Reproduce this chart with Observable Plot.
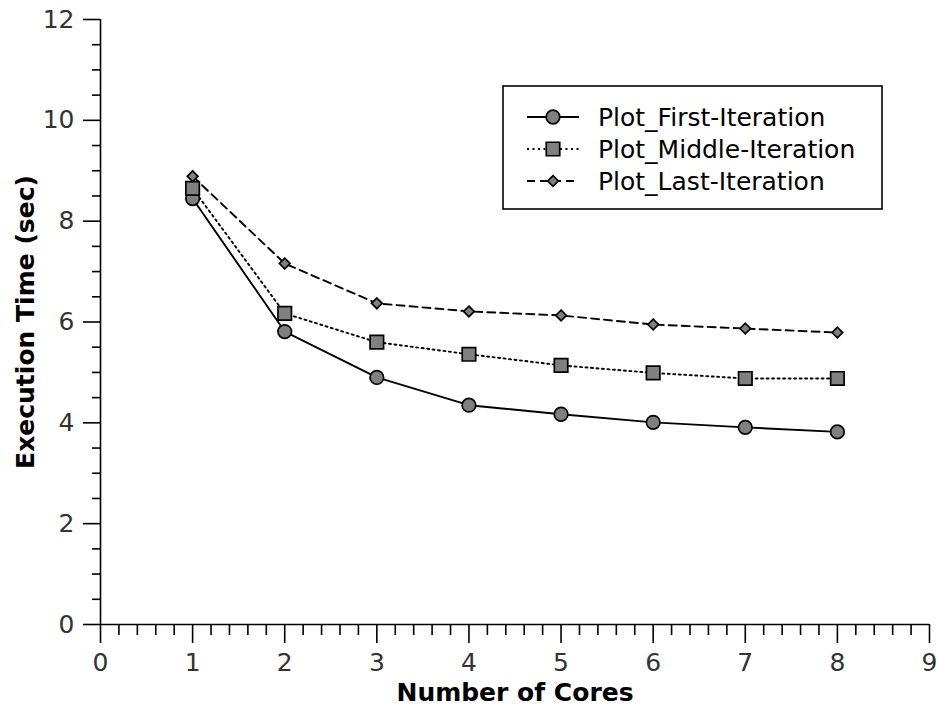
<!DOCTYPE html>
<html>
<head>
<meta charset="utf-8">
<script src="https://cdn.jsdelivr.net/npm/d3@7"></script>
<script src="https://cdn.jsdelivr.net/npm/@observablehq/plot@0.6"></script>
<style>
  body { margin: 0; background: #fff; }
  #chart svg { display: block; }
</style>
</head>
<body>
<div id="chart"></div>
<script>
// Execution time per number of cores, for three iterations of the run
const cores = [1, 2, 3, 4, 5, 6, 7, 8];
const firstIteration  = [8.45, 5.81, 4.90, 4.35, 4.17, 4.01, 3.91, 3.82];
const middleIteration = [8.65, 6.17, 5.60, 5.36, 5.14, 4.99, 4.88, 4.88];
const lastIteration   = [8.89, 7.16, 6.37, 6.21, 6.13, 5.95, 5.87, 5.79];
const seriesNames = ["Plot_First-Iteration", "Plot_Middle-Iteration", "Plot_Last-Iteration"];

// Axis ticks
const xMajorTicks = [0, 1, 2, 3, 4, 5, 6, 7, 8, 9];
const xMinorTicks = [0.2, 0.4, 0.6, 0.8, 1.2, 1.4, 1.6, 1.8, 2.2, 2.4, 2.6, 2.8,
  3.2, 3.4, 3.6, 3.8, 4.2, 4.4, 4.6, 4.8, 5.2, 5.4, 5.6, 5.8, 6.2, 6.4, 6.6, 6.8,
  7.2, 7.4, 7.6, 7.8, 8.2, 8.4, 8.6, 8.8];
const yMajorTicks = [0, 2, 4, 6, 8, 10, 12];
const yMinorTicks = [0.5, 1, 1.5, 2.5, 3, 3.5, 4.5, 5, 5.5, 6.5, 7, 7.5, 8.5, 9, 9.5, 10.5, 11, 11.5];

// Per-series styling
const styles = [
  {symbol: "circle",   r: 6.8, dash: null},
  {symbol: "square",   r: 7.6, dash: "2,3.5"},
  {symbol: "diamond2", r: 4.8, dash: "8,5"}
];

const seriesValues = [firstIteration, middleIteration, lastIteration];
const rows = seriesNames.map((name, i) =>
  cores.map((c, j) => ({series: name, cores: c, time: seriesValues[i][j]})));

const font = "DejaVu Sans";
const fontSize = 25;

const lineMarks = rows.map((data, i) => Plot.line(data, {
  x: "cores", y: "time", stroke: "#000", strokeWidth: 1.9,
  strokeDasharray: styles[i].dash
}));
const dotMarks = rows.map((data, i) => Plot.dot(data, {
  x: "cores", y: "time", symbol: () => styles[i].symbol, r: styles[i].r,
  fill: "#808080", stroke: "#000", strokeWidth: 1.7
}));

const chart = Plot.plot({
  width: 937,
  height: 706,
  marginLeft: 100,
  marginRight: 8,
  marginTop: 19,
  marginBottom: 82,
  style: {fontFamily: font, fontSize: `${fontSize}px`, background: "#fff", color: "#000"},
  symbol: {type: "identity"},
  x: {domain: [0, 9]},
  y: {domain: [0, 12]},
  marks: [
    // minor ticks
    Plot.axisX({ticks: xMinorTicks, tickSize: 11, text: null, label: null, stroke: "#000", strokeWidth: 1.6}),
    Plot.axisY({ticks: yMinorTicks, tickSize: 8, text: null, label: null, stroke: "#000", strokeWidth: 1.6}),
    // major ticks with labels
    Plot.axisX({ticks: xMajorTicks, tickSize: 19, tickPadding: 10, label: null,
      tickFormat: d => String(d), stroke: "#000", fill: "#333", strokeWidth: 1.6}),
    Plot.axisY({ticks: yMajorTicks, tickSize: 17, tickPadding: 9, label: null,
      tickFormat: d => String(d), stroke: "#000", fill: "#333", strokeWidth: 1.6}),
    // axis lines
    Plot.ruleY([0], {stroke: "#000", strokeWidth: 1.6}),
    Plot.ruleX([0], {stroke: "#000", strokeWidth: 1.6}),
    // axis titles
    Plot.text(["Number of Cores"], {frameAnchor: "bottom", dy: 68, lineAnchor: "middle",
      textAnchor: "middle", fontWeight: "bold", fontSize, fill: "#000"}),
    Plot.text(["Execution Time (sec)"], {frameAnchor: "left", dx: -75, rotate: -90,
      textAnchor: "middle", lineAnchor: "middle", fontWeight: "bold", fontSize, fill: "#000"}),
    ...lineMarks,
    ...dotMarks
  ]
});

// Legend box drawn inside the plot's SVG
const svg = d3.select(chart);
const legend = svg.append("g").attr("transform", "translate(503,86)");
legend.append("rect")
  .attr("width", 379).attr("height", 123)
  .attr("fill", "#fff").attr("stroke", "#000").attr("stroke-width", 1.6);

const d3Symbols = {circle: d3.symbolCircle, square: d3.symbolSquare, diamond2: d3.symbolDiamond2};
seriesNames.forEach((name, i) => {
  const y = 31 + i * 32;
  const row = legend.append("g").attr("transform", `translate(0,${y})`);
  row.append("line")
    .attr("x1", 24).attr("x2", 76).attr("y1", 0).attr("y2", 0)
    .attr("stroke", "#000").attr("stroke-width", 1.9)
    .attr("stroke-dasharray", styles[i].dash);
  row.append("path")
    .attr("transform", "translate(50,0)")
    .attr("d", d3.symbol(d3Symbols[styles[i].symbol], Math.PI * styles[i].r * styles[i].r)())
    .attr("fill", "#808080").attr("stroke", "#000").attr("stroke-width", 1.7);
  row.append("text")
    .attr("x", 95).attr("y", 0).attr("dy", "0.35em")
    .attr("text-anchor", "start")
    .attr("font-family", font).attr("font-size", fontSize).attr("fill", "#000")
    .text(name);
});

document.getElementById("chart").append(chart);
</script>
</body>
</html>
